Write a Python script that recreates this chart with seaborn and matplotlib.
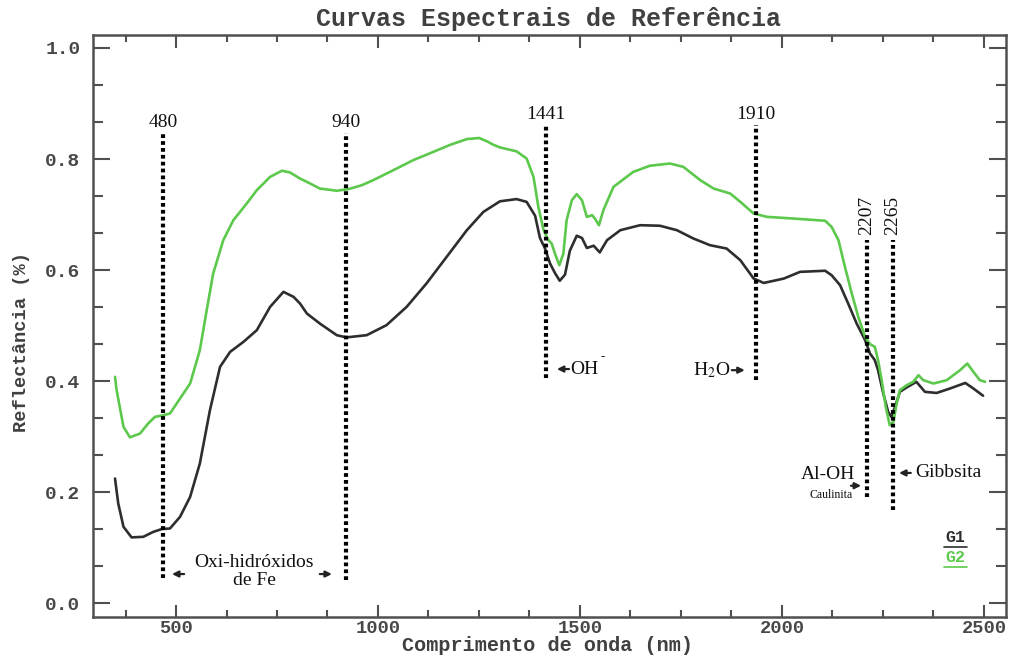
import matplotlib
matplotlib.use("Agg")
import matplotlib.pyplot as plt
import seaborn as sns
import pandas as pd

# ---------------- data ----------------
g1_nm = [349, 357, 370, 390, 419, 444, 465, 485, 510, 535, 559, 584, 609, 634, 667, 700, 733, 766, 791, 807,
         824, 856, 898, 922, 972, 1021, 1071, 1120, 1170, 1220, 1261, 1302, 1343, 1368, 1389, 1401, 1413, 1426,
         1438, 1450, 1463, 1475, 1492, 1505, 1517, 1534, 1549, 1567, 1600, 1649, 1698, 1740, 1781, 1822, 1863,
         1897, 1930, 1955, 2005, 2045, 2107, 2123, 2144, 2164, 2185, 2206, 2218, 2230, 2238, 2251, 2263, 2271,
         2280, 2292, 2309, 2333, 2354, 2383, 2416, 2454, 2474, 2498]
g1_refl = [0.225, 0.18, 0.138, 0.119, 0.12, 0.129, 0.134, 0.135, 0.156, 0.192, 0.252, 0.348, 0.426, 0.453, 0.471,
           0.492, 0.534, 0.561, 0.552, 0.54, 0.522, 0.504, 0.483, 0.479, 0.483, 0.501, 0.534, 0.576, 0.624, 0.672,
           0.705, 0.724, 0.728, 0.723, 0.698, 0.658, 0.64, 0.612, 0.595, 0.581, 0.592, 0.635, 0.662, 0.658, 0.64,
           0.644, 0.632, 0.654, 0.672, 0.681, 0.68, 0.672, 0.657, 0.645, 0.639, 0.618, 0.585, 0.577, 0.585, 0.597,
           0.599, 0.591, 0.573, 0.54, 0.504, 0.474, 0.45, 0.438, 0.42, 0.378, 0.345, 0.336, 0.354, 0.381, 0.389,
           0.399, 0.381, 0.379, 0.387, 0.397, 0.387, 0.374]

g2_nm = [349, 353, 370, 386, 411, 431, 448, 469, 485, 510, 535, 559, 576, 592, 617, 642, 675, 700, 733, 762, 782,
         807, 824, 856, 898, 927, 960, 988, 1038, 1087, 1137, 1180, 1220, 1250, 1270, 1285, 1302, 1343, 1368, 1385,
         1397, 1410, 1422, 1430, 1438, 1449, 1459, 1467, 1480, 1492, 1505, 1517, 1530, 1537, 1547, 1558, 1583,
         1632, 1673, 1723, 1756, 1798, 1831, 1872, 1897, 1930, 1963, 2028, 2107, 2123, 2140, 2156, 2173, 2189,
         2206, 2218, 2230, 2238, 2247, 2257, 2267, 2276, 2284, 2292, 2309, 2325, 2338, 2350, 2375, 2408, 2441,
         2459, 2474, 2490, 2503]
g2_refl = [0.408, 0.384, 0.318, 0.299, 0.306, 0.324, 0.336, 0.339, 0.342, 0.369, 0.396, 0.456, 0.528, 0.594, 0.654,
           0.69, 0.72, 0.744, 0.768, 0.779, 0.776, 0.765, 0.759, 0.747, 0.743, 0.746, 0.753, 0.762, 0.78, 0.798,
           0.813, 0.826, 0.836, 0.838, 0.832, 0.826, 0.821, 0.814, 0.801, 0.768, 0.714, 0.672, 0.654, 0.648, 0.63,
           0.609, 0.63, 0.69, 0.726, 0.737, 0.726, 0.696, 0.699, 0.693, 0.681, 0.708, 0.75, 0.777, 0.788, 0.792,
           0.786, 0.762, 0.747, 0.738, 0.723, 0.702, 0.696, 0.693, 0.689, 0.678, 0.654, 0.606, 0.558, 0.516, 0.48,
           0.467, 0.462, 0.438, 0.402, 0.354, 0.321, 0.327, 0.36, 0.384, 0.393, 0.399, 0.411, 0.402, 0.396, 0.402,
           0.42, 0.432, 0.417, 0.402, 0.399]

series_names = ["G1", "G2"]
series_colors = ["#2e2e2e", "#5cc84c"]

# absorption feature markers (label, drawn position, line span)
feat_labels = ["480", "940", "1441", "1910", "2207", "2265"]
feat_x = [468, 921, 1416, 1935, 2210, 2275]
feat_top = [0.847, 0.847, 0.861, 0.861, 0.654, 0.654]
feat_bottom = [0.046, 0.042, 0.406, 0.402, 0.192, 0.168]

# ---------------- figure ----------------
sns.set_style("ticks")
plt.rcParams["font.family"] = ["Liberation Mono", "DejaVu Sans Mono"]
plt.rcParams["mathtext.fontset"] = "stix"

df = pd.concat([
    pd.DataFrame({"nm": g1_nm, "refl": g1_refl, "serie": series_names[0]}),
    pd.DataFrame({"nm": g2_nm, "refl": g2_refl, "serie": series_names[1]}),
])

fig = plt.figure(figsize=(10.1, 6.56), dpi=100)
ax = fig.add_axes([93 / 1010, 1 - 616.7 / 656, (1005.7 - 93) / 1010, (616.7 - 35) / 656])

sns.lineplot(data=df, x="nm", y="refl", hue="serie", palette=series_colors, linewidth=1.9,
             legend=False, ax=ax, sort=True, estimator=None)

ax.set_xlim(294.5, 2554)
ax.set_ylim(-0.0238, 1.0234)
ax.set_xlabel("")
ax.set_ylabel("")

ax.set_xticks([500, 1000, 1500, 2000, 2500])
ax.set_xticks([375, 625, 750, 875, 1125, 1250, 1375, 1625, 1750, 1875, 2125, 2250, 2375], minor=True)
ax.set_yticks([0.0, 0.2, 0.4, 0.6, 0.8, 1.0])
ax.set_yticks([0.0667, 0.1333, 0.2667, 0.3333, 0.4667, 0.5333, 0.6667, 0.7333, 0.8667, 0.9333], minor=True)
ax.set_yticklabels(["0.0", "0.2", "0.4", "0.6", "0.8", "1.0"])

tick_col = "#505050"
for s in ax.spines.values():
    s.set_visible(True)
    s.set_linewidth(1.8)
    s.set_color(tick_col)
ax.tick_params(axis="both", which="both", direction="in", top=True, right=True, color=tick_col,
               width=1.5, labelcolor="#484848")
ax.tick_params(axis="y", which="major", length=12, pad=9)
ax.tick_params(axis="y", which="minor", length=7)
ax.tick_params(axis="x", which="major", length=9, pad=2.5)
ax.tick_params(axis="x", which="minor", length=5)
for lab in ax.get_yticklabels():
    lab.set_fontsize(14)
    lab.set_fontweight("bold")
for lab in ax.get_xticklabels():
    lab.set_fontsize(13.5)
    lab.set_fontweight("bold")

# titles / axis labels
fig.text(548 / 1010, 1 - 19 / 656, "Curvas Espectrais de Referência", ha="center", va="center",
         fontsize=18, fontweight="bold", color="#404040")
fig.text(548 / 1010, 1 / 656, "Comprimento de onda (nm)", ha="center", va="bottom",
         fontsize=14.5, fontweight="bold", color="#404040")
fig.text(22 / 1010, 1 - 342 / 656, "Reflectância (%)", ha="center", va="center", rotation=90,
         fontsize=13.5, fontweight="bold", color="#404040")

# dotted feature lines
serif = ["Liberation Serif", "DejaVu Serif"]
for lab, x, t, b in zip(feat_labels, feat_x, feat_top, feat_bottom):
    ax.plot([x, x], [b, t], color="black", lw=3.0, linestyle=(0, (0.9, 0.75)),
            dash_capstyle="butt", solid_capstyle="butt")
    if lab in ("2207", "2265"):
        ax.text(x, t + 0.045, lab, rotation=90, ha="center", va="center", fontsize=14,
                family=serif, color="#111111")
    else:
        ax.text(x, t + 0.004, lab, ha="center", va="bottom", fontsize=14, family=serif,
                color="#111111")

def arrow(tail, tip, y):
    ax.annotate("", xy=(tip, y), xytext=(tail, y),
                arrowprops=dict(arrowstyle="-|>", color="#222222", lw=1.6, mutation_scale=9,
                                shrinkA=0, shrinkB=0))

# text annotations
ax.text(693, 0.058, "Oxi-hidróxidos\nde Fe", ha="center", va="center", fontsize=14,
        family=serif, color="#111111", linespacing=1.05)
arrow(520, 490, 0.053)
arrow(856, 886, 0.053)

ax.text(1475, 0.422, "OH", ha="left", va="center", fontsize=14, family=serif, color="#111111")
ax.text(1552, 0.443, "-", ha="left", va="center", fontsize=9, family=serif, color="#111111")
arrow(1473, 1443, 0.422)

ax.text(1873, 0.42, "H$_{2}$O", ha="right", va="center", fontsize=14, family=serif, color="#111111")
arrow(1876, 1908, 0.42)

ax.text(2114, 0.232, "Al-OH", ha="center", va="center", fontsize=14, family=serif, color="#111111")
ax.text(2122, 0.196, "Caulinita", ha="center", va="center", fontsize=8.5, family=serif, color="#111111")
arrow(2171, 2196, 0.212)

ax.text(2329, 0.235, "Gibbsita", ha="left", va="center", fontsize=14, family=serif, color="#111111")
arrow(2319, 2290, 0.235)

# legend-like underlined labels
leg_y = [0.118, 0.082]
for name, col, yy in zip(series_names, series_colors, leg_y):
    ax.text(2430, yy, name, ha="center", va="center", fontsize=12, fontweight="bold", color=col)
    ax.plot([2402, 2458], [yy - 0.016, yy - 0.016], color=col, lw=1.2)

fig.savefig("out.png", dpi=100)
